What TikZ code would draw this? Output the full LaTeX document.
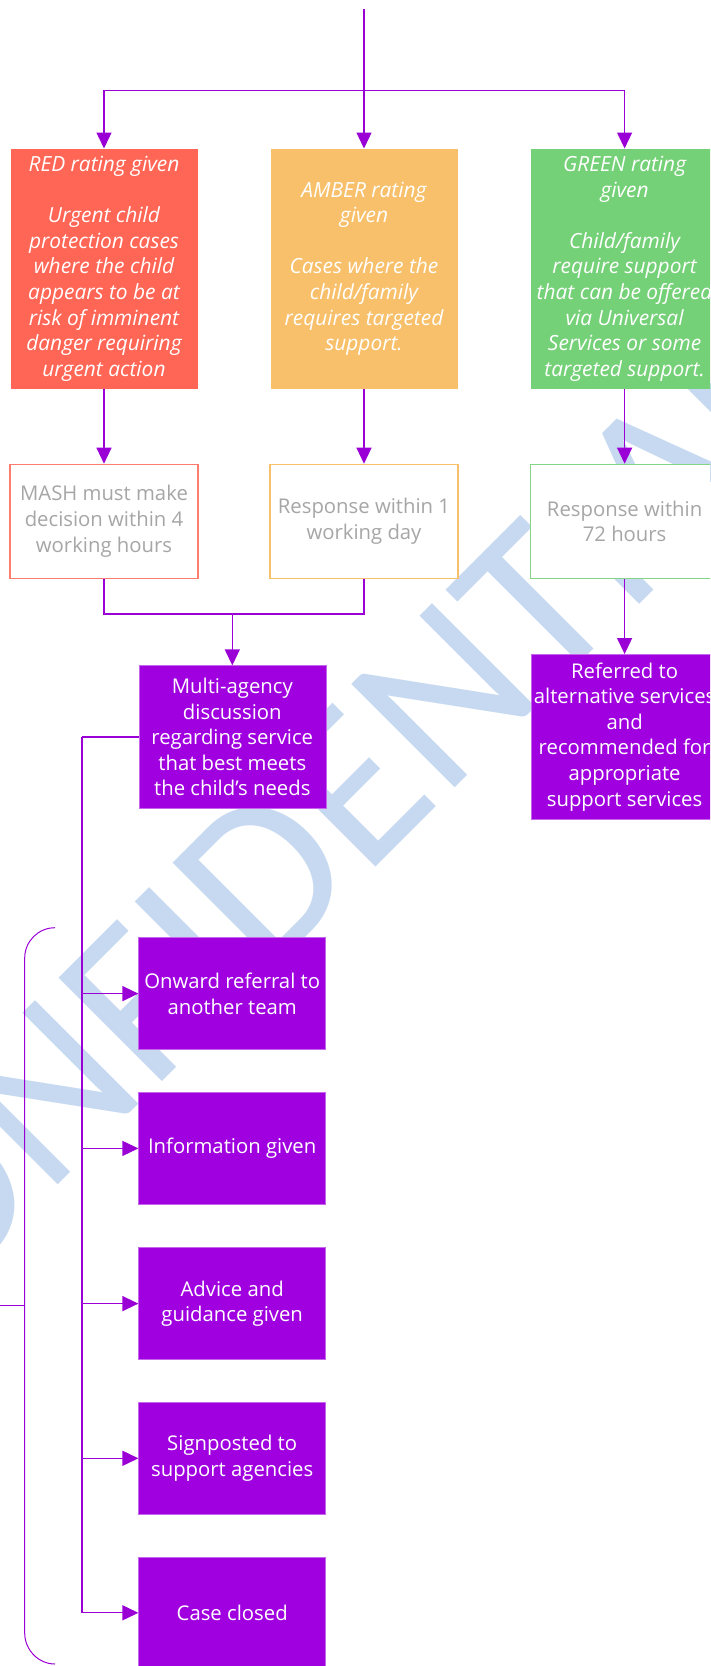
\documentclass[tikz,border=0pt]{standalone}
\usepackage{fontspec}
\setmainfont{Open Sans}
\newfontfamily\wmfont{Carlito}
\usetikzlibrary{arrows.meta}

\definecolor{ratered}{HTML}{FF6655}
\definecolor{rateamber}{HTML}{F8C06A}
\definecolor{rategreen}{HTML}{75D177}
\definecolor{flowpurple}{HTML}{A000E0}
\definecolor{linepurple}{HTML}{9A00D6}
\definecolor{wmblue}{HTML}{C6D9F0}
\definecolor{textgrey}{HTML}{A6A6A6}

\begin{document}
\begin{tikzpicture}[x=1pt,y=-1pt,
  every node/.style={inner sep=0pt, align=center},
  boxfont/.style={font=\fontsize{20.3}{25.6}\selectfont},
  rating/.style={font=\itshape\fontsize{20.9}{25.6}\selectfont, text=white,
    minimum width=187pt, minimum height=240pt},
  timing/.style={boxfont, draw, line width=1.2pt, fill=white, text=textgrey,
    minimum width=188pt, minimum height=114pt},
  action/.style={boxfont, fill=flowpurple, draw=flowpurple!60!white, line width=0.6pt,
    text=white, minimum width=187pt},
  link/.style={draw=linepurple, line width=1.3pt},
  arrow/.style={link, -{Triangle[length=16pt,width=15pt]}}]
  \clip (0,0) rectangle (710,1666);

  % watermark
  \node[rotate=45, text=wmblue, font=\wmfont\fontsize{228}{228}\selectfont] (wmark) at (290,850) {CONFIDENTIAL};

  % ratings
  \node[rating, fill=ratered] (red) at (104,268.7) {RED rating given\\[25.6pt]Urgent child\\protection cases\\where the child\\appears to be at\\risk of imminent\\danger requiring\\urgent action};
  \node[rating, fill=rateamber] (amber) at (364,268.7) {AMBER rating\\given\\[25.6pt]Cases where the\\child/family\\requires targeted\\support.};
  \node[rating, fill=rategreen] (green) at (624.6,268.7) {GREEN rating\\given\\[25.6pt]Child/family\\require support\\that can be offered\\via Universal\\Services or some\\targeted support.};

  % response times
  \node[timing, draw=ratered!85!white] (redtime) at (104,521.3) {MASH must make\\decision within 4\\working hours};
  \node[timing, draw=rateamber] (ambertime) at (364,521.3) {Response within 1\\working day};
  \node[timing, draw=rategreen!90!white] (greentime) at (624.6,521.3) {Response within\\72 hours};

  % outcomes
  \node[action, minimum height=142.6pt] (multi) at (232.3,737) {Multi-agency\\discussion\\regarding service\\that best meets\\the child’s needs};
  \node[action, minimum height=164.7pt] (referred) at (624.6,736.7) {Referred to\\alternative services\\and\\recommended for\\appropriate\\support services};

  \node[action, minimum height=111.7pt] (onward) at (232.2,993.6) {Onward referral to\\another team};
  \node[action, minimum height=111.7pt] (info) at (232.2,1148.4) {Information given};
  \node[action, minimum height=111.7pt] (advice) at (232.2,1303.6) {Advice and\\guidance given};
  \node[action, minimum height=111.7pt] (sign) at (232.2,1458.3) {Signposted to\\support agencies};
  \node[action, minimum height=111.7pt] (closed) at (232.2,1612.8) {Case closed};

  \coordinate (start) at (364,9);
  \coordinate (split) at (364,90.7);
  \coordinate (merge) at (232.3,614);
  \coordinate (trunk) at (82,737);

  % connectors
  \draw[arrow] (start) -- (amber.north);
  \draw[arrow] (split) -| (red.north);
  \draw[arrow] (split) -| (green.north);
  \draw[arrow] (red) -- (redtime);
  \draw[arrow] (amber) -- (ambertime);
  \draw[arrow] (green) -- (greentime);
  \draw[link] (redtime.south) |- (merge) -| (ambertime.south);
  \draw[arrow] (merge) -- (multi.north);
  \draw[arrow] (greentime) -- (referred);
  \draw[link] (multi.west) -- (trunk);
  \foreach \n in {onward,info,advice,sign,closed}
    \draw[arrow] (trunk) |- (\n.west);

  % bracket
  \draw[link, line width=1pt] (55,927.7) .. controls (38.3,927.7) and (24.7,941.3) .. (24.7,958)
    -- (24.7,1633) .. controls (24.7,1649.7) and (38.3,1664) .. (55,1664);
  \draw[link, line width=1pt] (0,1305.7) -- (24.7,1305.7);
\end{tikzpicture}
\end{document}
